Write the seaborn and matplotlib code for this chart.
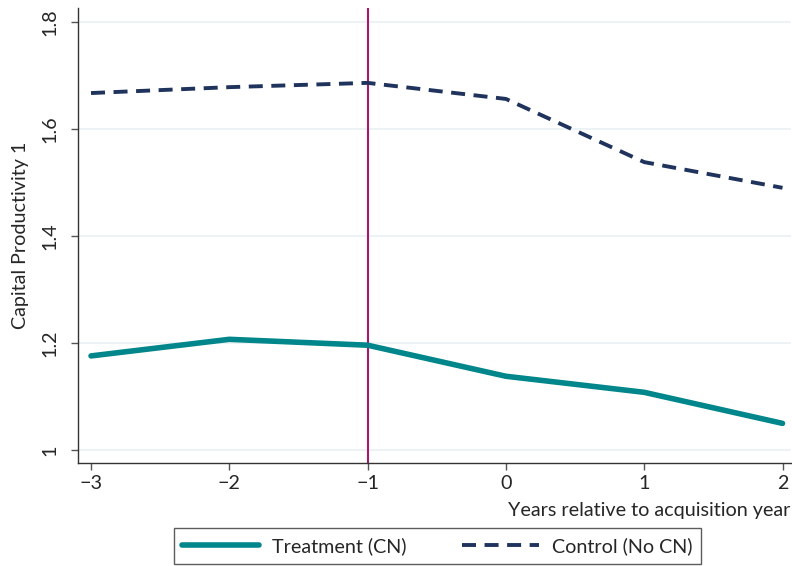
import numpy as np
import pandas as pd
import seaborn as sns
import matplotlib.pyplot as plt

# values
years = [-3, -2, -1, 0, 1, 2]
treatment = [1.176, 1.207, 1.196, 1.138, 1.108, 1.050]
control = [1.667, 1.678, 1.686, 1.656, 1.538, 1.490]
yticks = [1.0, 1.2, 1.4, 1.6, 1.8]
ytick_labels = ["1", "1.2", "1.4", "1.6", "1.8"]

df = pd.DataFrame({"year": years, "Treatment (CN)": treatment, "Control (No CN)": control})

sns.set_style("white")
plt.rcParams["font.family"] = ["Lato", "DejaVu Sans"]
plt.rcParams["axes.unicode_minus"] = True

fs = 14.2

fig = plt.figure(figsize=(7.92, 5.66), dpi=100)
ax = fig.add_axes([0.0985, 0.182, 0.9, 0.804])

for y in yticks:
    ax.axhline(y, color="#eaf0f2", lw=1.2, zorder=0)

ax.axvline(-1, color="#a8176e", lw=1.5, zorder=1)

sns.lineplot(data=df, x="year", y="Treatment (CN)", ax=ax, color="#00868b", lw=4,
             label="Treatment (CN)", zorder=3)
sns.lineplot(data=df, x="year", y="Control (No CN)", ax=ax, color="#1f335c", lw=2.8,
             linestyle=(0, (3.6, 2.2)), label="Control (No CN)", zorder=3)

ax.set_xlim(-3.094, 2.06)
ax.set_ylim(0.976, 1.826)
ax.set_xticks(years)
ax.set_xticklabels(["\u22123", "\u22122", "\u22121", "0", "1", "2"], fontsize=fs)
ax.set_yticks(yticks)
ax.set_yticklabels(ytick_labels, rotation=90, va="center", fontsize=fs)
ax.tick_params(axis="both", direction="out", length=5, width=1, color="#555555", pad=4)
ax.tick_params(axis="y", pad=9)
ax.tick_params(axis="both", bottom=True, left=True)

ax.set_xlabel("Years relative to acquisition year", fontsize=fs, ha="right")
ax.xaxis.set_label_coords(1.0, -0.085)
ax.set_ylabel("Capital Productivity 1", fontsize=fs)
ax.yaxis.set_label_coords(-0.069, 0.5)

for s in ["top", "right"]:
    ax.spines[s].set_visible(False)
for s in ["left", "bottom"]:
    ax.spines[s].set_color("#333333")
    ax.spines[s].set_linewidth(1)

leg = ax.legend(loc="center", ncol=2, frameon=True, fontsize=fs, handlelength=3.9,
                handletextpad=0.66, columnspacing=2.8, fancybox=False,
                edgecolor="#333333", borderpad=0.45, borderaxespad=0)
leg.set_bbox_to_anchor((437.5 / 792, 1 - 546 / 566), transform=fig.transFigure)
leg.get_frame().set_linewidth(1)

fig.savefig("out.png", dpi=100)
